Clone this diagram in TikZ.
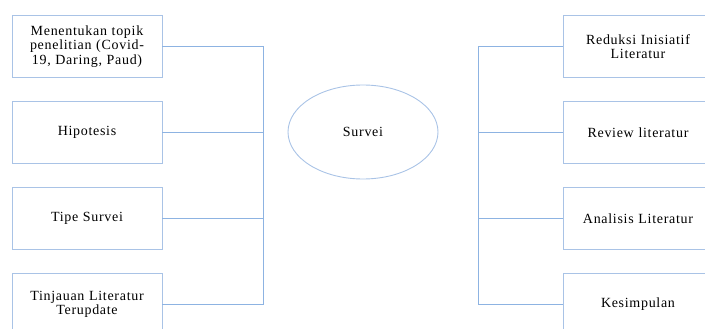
\documentclass[tikz,border=0pt]{standalone}
\usepackage{fontspec}
\setmainfont{Liberation Serif}[LetterSpace=5]
\usepackage{tikz}
\usetikzlibrary{positioning, shapes.geometric}
\definecolor{lineblue}{HTML}{8DB3E2}
\definecolor{boxblue}{HTML}{A9C3E6}

\begin{document}
\begin{tikzpicture}[
  x=1pt, y=-1pt,
  stepbox/.style={draw=boxblue, line width=0.9pt, minimum width=150pt, minimum height=62pt,
    align=center, font=\fontsize{14}{14.5}\selectfont, inner sep=2pt, text width=146pt},
  hub/.style={ellipse, draw=boxblue, line width=0.9pt, minimum width=150pt, minimum height=94pt,
    font=\fontsize{14}{14.5}\selectfont},
  link/.style={draw=lineblue, line width=0.8pt}
]
  \clip (0,0) rectangle (705,329);
  %------------------------------------------------------------
  %  PARAMETERS
  %------------------------------------------------------------
  \def\xL{87}      % centre of the left column
  \def\xR{638}     % centre of the right column
  \def\ysep{86}    % gap between rows

  %------------------------------------------------------------
  %  LEFT COLUMN
  %------------------------------------------------------------
  \node[stepbox] (L1) at (\xL,46.5)        {Menentukan topik\\penelitian (Covid-\\19, Daring, Paud)};
  \node[stepbox] (L2) at (\xL,46.5+\ysep)  {Hipotesis};
  \node[stepbox] (L3) at (\xL,46.5+2*\ysep){Tipe Survei};
  \node[stepbox] (L4) at (\xL,46.5+3*\ysep){Tinjauan Literatur\\Terupdate};

  %------------------------------------------------------------
  %  RIGHT COLUMN
  %------------------------------------------------------------
  \node[stepbox] (R1) at (\xR,46.5)        {Reduksi Inisiatif\\Literatur};
  \node[stepbox] (R2) at (\xR,46.5+\ysep)  {Review literatur};
  \node[stepbox] (R3) at (\xR,46.5+2*\ysep){Analisis Literatur};
  \node[stepbox] (R4) at (\xR,46.5+3*\ysep){Kesimpulan};

  %------------------------------------------------------------
  %  CENTRE
  %------------------------------------------------------------
  \node[hub] (S) at (363,132) {Survei};

  %------------------------------------------------------------
  %  CONNECTORS
  %------------------------------------------------------------
  \coordinate (JL) at (263,0);
  \coordinate (JR) at (478,0);

  \draw[link] (L1.east) -- (L1.east -| JL) -- (L4.east -| JL) -- (L4.east);
  \draw[link] (R1.west) -- (R1.west -| JR) -- (R4.west -| JR) -- (R4.west);
  \foreach \n in {2,3} {
    \draw[link] (L\n.east) -- (L\n.east -| JL);
    \draw[link] (R\n.west) -- (R\n.west -| JR);
  }

\end{tikzpicture}
\end{document}
